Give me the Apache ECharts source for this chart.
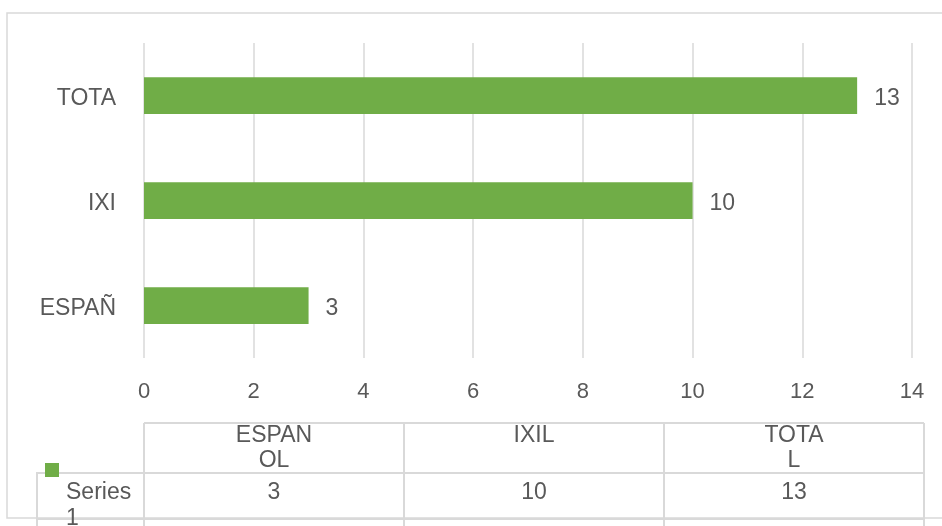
<!DOCTYPE html>
<html>
<head>
<meta charset="utf-8">
<script src="https://cdn.jsdelivr.net/npm/echarts@6/dist/echarts.min.js"></script>
<style>
  html, body { margin: 0; padding: 0; background: #fff; }
  #chart { width: 942px; height: 526px; }
</style>
</head>
<body>
<div id="chart"></div>
<script>
// data
var categories = ['ESPAÑOL', 'IXIL', 'TOTAL'];
var axisLabels = ['ESPAÑ', 'IXI', 'TOTA'];
var tableHeaders = ['ESPAN\nOL', 'IXIL', 'TOTA\nL'];
var seriesName = 'Series\n1';
var values = [3, 10, 13];
var xTicks = [0, 2, 4, 6, 8, 10, 12, 14];

var chart = echarts.init(document.getElementById('chart'));

var textColor = '#595959';
var lineColor = '#d9d9d9';
var barColor = '#70ad47';
var font = 'Liberation Sans';
var fs = 23;

// data table under the plot
var tableLeft = 144, colW = 260, headTop = 423, rowTop = 473, rowBottom = 519;
var tableRight = tableLeft + colW * categories.length;
var g = [];
g.push({ type: 'rect', shape: { x: 7, y: 13, width: 960, height: 505 },
  style: { fill: 'none', stroke: lineColor, lineWidth: 1.5 }, silent: true });
g.push({ type: 'line', shape: { x1: tableLeft, y1: headTop, x2: tableRight, y2: headTop },
  style: { stroke: lineColor, lineWidth: 2 } });
g.push({ type: 'line', shape: { x1: 36, y1: rowTop, x2: tableRight, y2: rowTop },
  style: { stroke: lineColor, lineWidth: 2 } });
g.push({ type: 'line', shape: { x1: 36, y1: rowBottom, x2: tableRight, y2: rowBottom },
  style: { stroke: lineColor, lineWidth: 2 } });
g.push({ type: 'line', shape: { x1: 37, y1: rowTop, x2: 37, y2: 526 },
  style: { stroke: lineColor, lineWidth: 2 } });
for (var i = 0; i <= categories.length; i++) {
  var x = tableLeft + colW * i;
  g.push({ type: 'line', shape: { x1: x, y1: headTop, x2: x, y2: 526 },
    style: { stroke: lineColor, lineWidth: 2 } });
}
tableHeaders.forEach(function (h, i) {
  g.push({ type: 'text', x: tableLeft + colW * i + colW / 2, y: headTop,
    style: { text: h, fill: textColor, font: fs + 'px "' + font + '"', align: 'center',
      verticalAlign: 'top', lineHeight: 25 } });
});
values.forEach(function (v, i) {
  g.push({ type: 'text', x: tableLeft + colW * i + colW / 2, y: rowTop + 7,
    style: { text: String(v), fill: textColor, font: fs + 'px "' + font + '"', align: 'center',
      verticalAlign: 'top', lineHeight: 26 } });
});
g.push({ type: 'rect', shape: { x: 45, y: 463, width: 14, height: 14 }, style: { fill: barColor } });
g.push({ type: 'text', x: 66, y: rowTop + 7,
  style: { text: seriesName, fill: textColor, font: fs + 'px "' + font + '"', align: 'left',
    verticalAlign: 'top', lineHeight: 26 } });

var option = {
  animation: false,
  textStyle: { fontFamily: font },
  grid: { left: 144, right: 30, top: 43, bottom: 168, containLabel: false },
  xAxis: {
    type: 'value',
    min: xTicks[0],
    max: xTicks[xTicks.length - 1],
    interval: 2,
    axisLine: { show: false },
    axisTick: { show: false },
    axisLabel: { color: textColor, fontSize: 22, margin: 23 },
    splitLine: { lineStyle: { color: lineColor, width: 1.5 } }
  },
  yAxis: {
    type: 'category',
    data: categories,
    axisLine: { show: false },
    axisTick: { show: false },
    axisLabel: {
      color: textColor, fontSize: fs, margin: 28,
      formatter: function (val, idx) { return '{a|' + axisLabels[idx] + '}'; },
      rich: { a: { color: textColor, fontSize: fs, padding: [6, 0, 0, 0] } }
    }
  },
  series: [{
    name: 'Series 1',
    type: 'bar',
    data: values,
    barWidth: '35%',
    itemStyle: { color: barColor },
    label: { show: true, position: 'right', distance: 17, offset: [0, 3], color: textColor, fontSize: fs }
  }],
  graphic: g
};

chart.setOption(option);
</script>
</body>
</html>
